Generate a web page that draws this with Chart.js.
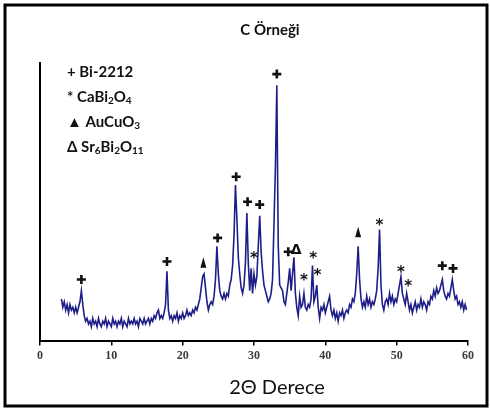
<!DOCTYPE html>
<html>
<head>
<meta charset="utf-8">
<script src="https://cdn.jsdelivr.net/npm/chart.js@4"></script>
<style>
  html, body { margin: 0; padding: 0; background: #fff; }
  #wrap { width: 490px; height: 410px; }
</style>
</head>
<body>
<div id="wrap"><canvas id="xrd" width="490" height="410"></canvas></div>
<script>
    // 2θ grid of the readings (degrees)
    const angleStart = 3.0;
    const angleStep = 0.2;

    // intensity, one row per 2 degrees (arbitrary units)
    const intensity = [
        15, 12, 14, 11, 13, 10, 13, 11, 12, 10,   // 3.0 - 4.8
        12, 10, 12, 14, 18, 13, 9, 7, 8, 6,       // 5.0 - 6.8
        7, 5, 8, 6, 7, 5, 8, 6, 5, 7,             // 7.0 - 8.8
        6, 8, 5, 7, 6, 5, 8, 6, 7, 5,             // 9.0 - 10.8
        7, 6, 8, 5, 7, 6, 5, 8, 6, 7,             // 11.0 - 12.8
        6, 8, 6, 7, 5, 8, 7, 6, 8, 6,             // 13.0 - 14.8
        7, 8, 6, 8, 7, 9, 8, 10, 11, 8,           // 15.0 - 16.8
        9, 8, 10, 13, 25, 11, 8, 9, 7, 9,         // 17.0 - 18.8
        8, 10, 7, 9, 8, 10, 8, 9, 11, 9,          // 19.0 - 20.8
        10, 9, 11, 10, 12, 11, 13, 15, 19, 23,    // 21.0 - 22.8
        24, 19, 14, 11, 13, 14, 13, 16, 22, 34,   // 23.0 - 24.8
        24, 18, 16, 15, 17, 15, 17, 16, 20, 22,   // 25.0 - 26.8
        27, 38, 56, 44, 30, 24, 19, 17, 20, 28,   // 27.0 - 28.8
        46, 28, 18, 26, 17, 24, 20, 23, 34, 45,   // 29.0 - 30.8
        32, 25, 20, 18, 16, 14, 15, 17, 22, 42,   // 31.0 - 32.8
        62, 92, 34, 20, 19, 18, 14, 13, 17, 21,   // 33.0 - 34.8
        26, 18, 24, 30, 17, 12, 9, 16, 12, 13,    // 35.0 - 36.8
        17, 12, 11, 13, 12, 15, 27, 14, 16, 20,   // 37.0 - 38.8
        12, 8, 12, 11, 13, 10, 12, 14, 16, 11,    // 39.0 - 40.8
        9, 11, 8, 10, 7, 10, 9, 11, 8, 10,        // 41.0 - 42.8
        11, 10, 13, 12, 15, 14, 17, 24, 34, 22,   // 43.0 - 44.8
        15, 12, 14, 12, 16, 13, 15, 12, 14, 13,   // 45.0 - 46.8
        15, 18, 26, 40, 20, 13, 11, 14, 15, 13,   // 47.0 - 48.8
        17, 14, 16, 13, 15, 14, 17, 20, 23, 17,   // 49.0 - 50.8
        15, 13, 17, 14, 11, 13, 10, 12, 14, 11,   // 51.0 - 52.8
        13, 12, 15, 12, 14, 13, 11, 14, 13, 16,   // 53.0 - 54.8
        15, 18, 16, 19, 17, 18, 20, 22, 18, 16,   // 55.0 - 56.8
        15, 17, 16, 19, 22, 18, 15, 16, 13, 14,   // 57.0 - 58.8
        12, 14, 11, 13, 11                        // 59.0 - 59.8
    ];

    // phase marks above the peaks
    const markSymbols = ['+', '+', '▲', '+', '+', '+', '*', '+', '+', '+', 'Δ', '*', '*', '*', '▲', '*', '*', '*', '+', '+'];
    const markAngles = [5.8, 17.8, 22.9, 24.9, 27.5, 29.1, 30.0, 30.8, 33.2, 34.8, 35.9, 37.0, 38.3, 38.9, 44.6, 47.6, 50.6, 51.6, 56.4, 57.9];
    const markHeights = [22, 28.5, 28, 37, 59, 50, 30, 49, 96, 32, 32.5, 22, 30, 24, 39, 42, 25, 20, 27, 26];

    // x axis
    const xTicks = [0, 10, 20, 30, 40, 50, 60];

    const points = intensity.map((v, i) => ({ x: +(angleStart + i * angleStep).toFixed(1), y: v }));

    // legend lines: [text, subscript] pieces
    const legendLines = [
        [['+ Bi-2212', false]],
        [['* CaBi', false], ['2', true], ['O', false], ['4', true]],
        [['▲ AuCuO', false], ['3', true]],
        [['Δ Sr', false], ['6', true], ['Bi', false], ['2', true], ['O', false], ['11', true]]
    ];

    function drawRich(ctx, parts, x, y) {
        parts.forEach(([txt, sub]) => {
            ctx.font = sub ? 'bold 10px Lato' : 'bold 15px Lato';
            ctx.fillText(txt, x, sub ? y + 4 : y);
            x += ctx.measureText(txt).width;
        });
    }

    // peak marks
    function drawMark(ctx, s, px, py) {
        if (s === '+') {
            ctx.lineWidth = 2.6;
            ctx.beginPath();
            ctx.moveTo(px - 4.5, py); ctx.lineTo(px + 4.5, py);
            ctx.moveTo(px, py - 4.5); ctx.lineTo(px, py + 4.5);
            ctx.stroke();
        } else if (s === '▲') {
            ctx.beginPath();
            ctx.moveTo(px, py - 5.5);
            ctx.lineTo(px + 3, py + 5);
            ctx.lineTo(px - 3, py + 5);
            ctx.closePath();
            ctx.fill();
        } else if (s === '*') {
            ctx.font = 'bold 15px "DejaVu Sans"';
            ctx.fillText(s, px, py + 2);
        } else {
            ctx.font = 'bold 14px "DejaVu Sans"';
            ctx.fillText(s, px, py);
        }
    }

    const decorPlugin = {
        id: 'decor',
        afterDatasetsDraw(chart) {
            const ctx = chart.ctx;
            const xs = chart.scales.x, ys = chart.scales.y;
            ctx.save();
            ctx.fillStyle = '#111';
            ctx.strokeStyle = '#111';
            ctx.textAlign = 'center';
            ctx.textBaseline = 'middle';
            markSymbols.forEach((s, i) => {
                drawMark(ctx, s, xs.getPixelForValue(markAngles[i]), ys.getPixelForValue(markHeights[i]));
            });
            ctx.restore();
        },
        afterDraw(chart) {
            const ctx = chart.ctx;
            const area = chart.chartArea;
            ctx.save();
            ctx.fillStyle = '#111';
            ctx.textBaseline = 'middle';
            ctx.textAlign = 'left';
            legendLines.forEach((parts, i) => {
                drawRich(ctx, parts, area.left + 27, 72 + i * 25);
            });
            ctx.textAlign = 'center';
            ctx.font = 'bold 15px Lato';
            ctx.fillText('C Örneği', 270, 30);
            ctx.font = '20px Lato';
            ctx.fillText('2Θ Derece', 277, 388);
            ctx.strokeStyle = '#000';
            ctx.lineWidth = 3;
            ctx.strokeRect(5, 5, 482, 401);
            ctx.restore();
        }
    };

    new Chart(document.getElementById('xrd').getContext('2d'), {
        type: 'line',
        data: {
            datasets: [{
                data: points,
                borderColor: '#1e1e88',
                borderWidth: 1.6,
                pointRadius: 0,
                tension: 0,
                fill: false
            }]
        },
        options: {
            responsive: false,
            animation: false,
            layout: { padding: { left: 40, right: 22, top: 63, bottom: 44 } },
            plugins: { legend: { display: false }, tooltip: { enabled: false }, title: { display: false } },
            scales: {
                x: {
                    type: 'linear',
                    min: 0,
                    max: 60,
                    afterBuildTicks: axis => { axis.ticks = xTicks.map(v => ({ value: v })); },
                    grid: { display: true, drawOnChartArea: false, drawTicks: true, tickLength: 5, color: '#000', lineWidth: 1.5 },
                    border: { display: true, color: '#000', width: 2 },
                    ticks: { color: '#3a3a3a', font: { family: 'Liberation Sans Narrow', size: 12, weight: 'bold' }, padding: 3, maxRotation: 0 }
                },
                y: {
                    min: 0,
                    max: 100,
                    grid: { display: false, drawTicks: false },
                    border: { display: true, color: '#000', width: 2 },
                    ticks: { display: false }
                }
            }
        },
        plugins: [decorPlugin]
    });
</script>
</body>
</html>
